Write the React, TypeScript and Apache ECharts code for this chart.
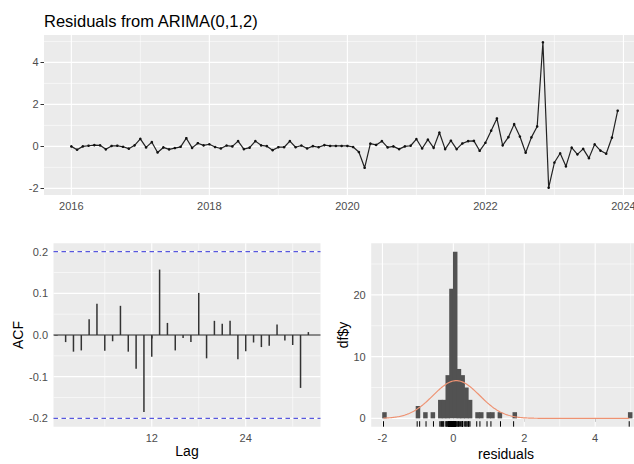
import { useEffect, useRef } from "react";
import * as echarts from "echarts";

// Monthly residuals of the ARIMA(0,1,2) fit, Jan 2016 – Dec 2023
const res2016 = [0.0, -0.16, 0.0, 0.03, 0.06, 0.05, -0.14, 0.02, 0.03, -0.02, -0.11, 0.05];
const res2017 = [0.36, -0.05, 0.2, -0.29, -0.05, -0.14, -0.08, -0.02, 0.39, -0.07, 0.15, 0.05];
const res2018 = [0.1, -0.03, -0.1, 0.04, 0.0, 0.25, -0.13, -0.06, 0.25, 0.05, 0.01, -0.18];
const res2019 = [-0.04, -0.04, 0.25, -0.04, 0.04, -0.1, 0.01, -0.04, 0.06, 0.02, 0.02, 0.02];
const res2020 = [0.02, -0.03, -0.27, -1.02, 0.13, 0.07, 0.25, -0.05, 0.0, -0.13, 0.0, 0.03];
const res2021 = [0.35, -0.1, 0.32, -0.07, 0.66, -0.13, 0.27, -0.13, 0.14, 0.25, 0.26, -0.21];
const res2022 = [0.17, 0.75, 1.33, 0.05, 0.44, 1.06, 0.47, -0.3, 0.43, 0.95, 4.96, -1.97];
const res2023 = [-0.77, -0.33, -0.95, -0.06, -0.38, -0.12, -0.56, 0.1, -0.2, -0.35, 0.42, 1.7];
const startYear = 2016;

// Autocorrelation of the residuals, lags 1..32
const acfValues = [
  -0.017, -0.04, -0.037, 0.038, 0.075, -0.038, -0.015, 0.07, -0.04, -0.081, -0.185, -0.052,
  0.157, 0.029, -0.037, -0.007, -0.017, 0.101, -0.056, 0.034, 0.027, 0.034, -0.058, -0.039,
  -0.018, -0.029, -0.026, 0.025, -0.013, -0.024, -0.127, 0.007,
];

// Histogram of residuals: bin left edges and counts
const binWidth = 0.105;
const binStarts = [
  -1.995, -1.05, -0.84, -0.63, -0.42, -0.315, -0.21, -0.105, 0, 0.105, 0.21, 0.315, 0.42,
  0.63, 0.735, 0.945, 1.05, 1.26, 1.68, 4.935,
];
const binCounts = [1, 2, 1, 1, 3, 3, 7, 21, 27, 8, 7, 5, 3, 1, 1, 1, 1, 1, 1, 1];

// Axis breaks
const topXBreaks = [2016, 2018, 2020, 2022, 2024];
const topXMinor = [2017, 2019, 2021, 2023];
const topYBreaks = [-2, 0, 2, 4];
const topYMinor = [-1, 1, 3, 5];
const acfXBreaks = [12, 24];
const acfXMinor = [6, 18, 30];
const acfYBreaks = [-0.2, -0.1, 0, 0.1, 0.2];
const acfYMinor = [-0.15, -0.05, 0.05, 0.15];
const histXBreaks = [-2, 0, 2, 4];
const histXMinor = [-1, 1, 3, 5];
const histYBreaks = [0, 10, 20];
const histYMinor = [5, 15, 25];

const FONT = '"Liberation Sans", Arial, sans-serif';
const PANEL_BG = "#EBEBEB";

const residuals = [
  ...res2016, ...res2017, ...res2018, ...res2019,
  ...res2020, ...res2021, ...res2022, ...res2023,
];

const expand = (lo: number, hi: number, f = 0.05): [number, number] => {
  const d = (hi - lo) * f;
  return [lo - d, hi + d];
};

function valueAxis(
  gridIndex: number,
  range: [number, number],
  breaks: number[],
  fmt: (v: number) => string
) {
  return {
    type: "value",
    gridIndex,
    min: range[0],
    max: range[1],
    axisLine: { show: false },
    axisTick: {
      show: true,
      customValues: breaks,
      length: 3.5,
      lineStyle: { color: "#333333", width: 1 },
    },
    axisLabel: {
      customValues: breaks,
      formatter: (v: number) => fmt(v),
      color: "#4D4D4D",
      fontSize: 11,
      fontFamily: FONT,
      margin: 5.5,
    },
    splitLine: { show: false },
    minorSplitLine: { show: false },
  };
}

// Full-width / full-height reference lines inside one grid.
// Each item: [orientation (0 = vertical, 1 = horizontal), value, width, dashed(0/1), colorIndex]
const LINE_COLORS = ["#FFFFFF", "#1A1A1A", "#5858DE"];

function refLines(
  idx: number,
  xRange: [number, number],
  yRange: [number, number],
  items: number[][],
  z: number
) {
  const xMid = (xRange[0] + xRange[1]) / 2;
  const yMid = (yRange[0] + yRange[1]) / 2;
  return {
    type: "custom",
    xAxisIndex: idx,
    yAxisIndex: idx,
    z,
    silent: true,
    data: items.map((it) => [it[0] === 0 ? it[1] : xMid, it[0] === 0 ? yMid : it[1], it[0], it[2], it[3], it[4]]),
    encode: { x: 0, y: 1 },
    renderItem: (params: any, api: any) => {
      const cs = params.coordSys;
      const p = api.coord([api.value(0), api.value(1)]);
      const vertical = api.value(2) === 0;
      const shape = vertical
        ? { x1: p[0], y1: cs.y, x2: p[0], y2: cs.y + cs.height }
        : { x1: cs.x, y1: p[1], x2: cs.x + cs.width, y2: p[1] };
      return {
        type: "line",
        shape,
        style: {
          stroke: LINE_COLORS[api.value(5)],
          lineWidth: api.value(3),
          lineDash: api.value(4) ? [4.5, 3.5] : null,
          fill: null,
        },
      };
    },
  };
}

function gridItems(xMajor: number[], xMinor: number[], yMajor: number[], yMinor: number[]) {
  return [
    ...xMinor.map((v) => [0, v, 0.55, 0, 0]),
    ...yMinor.map((v) => [1, v, 0.55, 0, 0]),
    ...xMajor.map((v) => [0, v, 1.1, 0, 0]),
    ...yMajor.map((v) => [1, v, 1.1, 0, 0]),
  ];
}

export default function App() {
  const ref = useRef<HTMLDivElement>(null);

  useEffect(() => {
    if (!ref.current) return;
    document.body.style.margin = "0";
    const chart = echarts.init(ref.current, undefined, { renderer: "svg" });

    const n = residuals.length;
    const series = residuals.map((v, i) => [startYear + i / 12, v]);
    const tLast = startYear + (n - 1) / 12;
    const rMin = Math.min(...residuals);
    const rMax = Math.max(...residuals);

    const topX = expand(startYear, tLast);
    const topY = expand(rMin, rMax);

    const ci = 1.96 / Math.sqrt(n);
    const acfMax = Math.max(ci, ...acfValues.map(Math.abs));
    const acfX = expand(1, acfValues.length);
    const acfY = expand(-acfMax, acfMax);

    const histX = expand(rMin, rMax);
    const histY = expand(0, Math.max(...binCounts));

    // fitted normal density, scaled to counts
    const mean = residuals.reduce((a, b) => a + b, 0) / n;
    const sd = Math.sqrt(residuals.reduce((a, b) => a + (b - mean) ** 2, 0) / (n - 1));
    const curve: number[][] = [];
    const steps = 240;
    for (let k = 0; k <= steps; k++) {
      const x = rMin + ((rMax - rMin) * k) / steps;
      const dens = Math.exp(-0.5 * ((x - mean) / sd) ** 2) / (sd * Math.sqrt(2 * Math.PI));
      curve.push([x, dens * n * binWidth]);
    }

    const gridBase = {
      show: true,
      backgroundColor: PANEL_BG,
      borderWidth: 0,
      containLabel: false,
      outerBoundsMode: "none",
    };
    const axisTitle = { fontSize: 14, fontFamily: FONT, fill: "#000", align: "center", verticalAlign: "middle" };

    chart.setOption({
      animation: false,
      backgroundColor: "#FFFFFF",
      grid: [
        { ...gridBase, left: 44, top: 35, width: 601, height: 160 },
        { ...gridBase, left: 53.5, top: 243.3, width: 267, height: 183.4 },
        { ...gridBase, left: 371.2, top: 243.3, width: 270.3, height: 183.4 },
      ],
      xAxis: [
        valueAxis(0, topX, topXBreaks, (v) => String(v)),
        valueAxis(1, acfX, acfXBreaks, (v) => String(v)),
        valueAxis(2, histX, histXBreaks, (v) => String(v)),
      ],
      yAxis: [
        valueAxis(0, topY, topYBreaks, (v) => String(v)),
        valueAxis(1, acfY, acfYBreaks, (v) => v.toFixed(1)),
        valueAxis(2, histY, histYBreaks, (v) => String(v)),
      ],
      graphic: [
        {
          type: "text",
          x: 44,
          y: 21,
          style: {
            text: "Residuals from ARIMA(0,1,2)",
            fontSize: 16.5,
            fontFamily: FONT,
            fill: "#000000",
            align: "left",
            verticalAlign: "middle",
          },
        },
        { type: "text", x: 187, y: 451, style: { ...axisTitle, text: "Lag" } },
        { type: "text", x: 506, y: 454, style: { ...axisTitle, text: "residuals" } },
        { type: "text", x: 18, y: 335, rotation: Math.PI / 2, style: { ...axisTitle, text: "ACF" } },
        { type: "text", x: 343, y: 335, rotation: Math.PI / 2, style: { ...axisTitle, text: "df$y" } },
      ],
      series: [
        refLines(0, topX, topY, gridItems(topXBreaks, topXMinor, topYBreaks, topYMinor), 1),
        refLines(1, acfX, acfY, gridItems(acfXBreaks, acfXMinor, acfYBreaks, acfYMinor), 1),
        refLines(2, histX, histY, gridItems(histXBreaks, histXMinor, histYBreaks, histYMinor), 1),
        {
          type: "line",
          xAxisIndex: 0,
          yAxisIndex: 0,
          data: series,
          z: 3,
          symbol: "circle",
          symbolSize: 2.6,
          showSymbol: true,
          showAllSymbol: true,
          itemStyle: { color: "#111111" },
          lineStyle: { color: "#222222", width: 1.2 },
          silent: true,
        },
        // ACF zero line and 95% bounds
        refLines(1, acfX, acfY, [[1, 0, 1, 0, 1]], 2),
        {
          type: "custom",
          xAxisIndex: 1,
          yAxisIndex: 1,
          z: 3,
          silent: true,
          data: acfValues.map((v, i) => [i + 1, v]),
          encode: { x: 0, y: 1 },
          renderItem: (_p: any, api: any) => {
            const lag = api.value(0);
            const p0 = api.coord([lag, 0]);
            const p1 = api.coord([lag, api.value(1)]);
            return {
              type: "line",
              shape: { x1: p0[0], y1: p0[1], x2: p1[0], y2: p1[1] },
              style: { stroke: "#333333", lineWidth: 1.5 },
            };
          },
        },
        refLines(1, acfX, acfY, [[1, ci, 1.2, 1, 2], [1, -ci, 1.2, 1, 2]], 4),
        {
          type: "custom",
          xAxisIndex: 2,
          yAxisIndex: 2,
          z: 3,
          silent: true,
          data: binStarts.map((s, i) => [s, binCounts[i]]),
          encode: { x: 0, y: 1 },
          renderItem: (_p: any, api: any) => {
            const s = api.value(0);
            const p0 = api.coord([s, 0]);
            const p1 = api.coord([s + binWidth, api.value(1)]);
            // slight overlap so neighbouring bins join without seams
            return {
              type: "rect",
              shape: {
                x: p0[0] - 0.4,
                y: p1[1],
                width: p1[0] - p0[0] + 0.8,
                height: p0[1] - p1[1],
              },
              style: { fill: "#525252" },
            };
          },
        },
        {
          type: "custom",
          xAxisIndex: 2,
          yAxisIndex: 2,
          z: 3,
          silent: true,
          data: residuals.map((v) => [v, histY[0]]),
          encode: { x: 0, y: 1 },
          renderItem: (_p: any, api: any) => {
            const p = api.coord([api.value(0), api.value(1)]);
            return {
              type: "line",
              shape: { x1: p[0], y1: p[1], x2: p[0], y2: p[1] - 5.5 },
              style: { stroke: "#000000", lineWidth: 1 },
            };
          },
        },
        {
          type: "line",
          xAxisIndex: 2,
          yAxisIndex: 2,
          z: 4,
          silent: true,
          data: curve,
          showSymbol: false,
          symbol: "none",
          lineStyle: { color: "#EE9272", width: 1.2 },
        },
      ],
    });

    return () => chart.dispose();
  }, []);

  return (
    <div
      ref={ref}
      style={{ position: "fixed", left: 0, top: 0, width: 634, height: 464 }}
    />
  );
}
